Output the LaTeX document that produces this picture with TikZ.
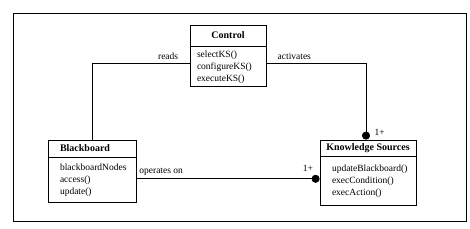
\documentclass[tikz,border=0pt]{standalone}
\usepackage{fontspec}
\setmainfont{Liberation Serif}
\usetikzlibrary{positioning,arrows.meta}

\tikzset{
  classtitle/.style={draw,line width=0.8pt,font=\bfseries,inner ysep=0pt},
  classbody/.style={draw,line width=0.8pt,align=left,inner ysep=0pt},
  assoc/.style={line width=0.8pt},
  onemany/.style={line width=0.8pt,-{Circle[length=8pt]}},
}

\begin{document}
\begin{tikzpicture}[x=1pt,y=-1pt,font=\fontsize{9.5}{12}\selectfont]
  \useasboundingbox (0,0) rectangle (470,229);
  % outer frame
  \draw[line width=0.8pt] (13,13) rectangle (466,221);

  % Control
  \node[classtitle,minimum width=76pt,minimum height=21pt] (ctltitle) at (228,35.5) {Control};
  \node[classbody,below=0pt of ctltitle,text width=62pt,inner xsep=7pt,minimum height=40pt] (ctlbody)
    {selectKS()\\configureKS()\\executeKS()};

  % Blackboard
  \node[classtitle,text width=64pt,inner xsep=12pt,align=left,minimum height=17pt] (bbtitle) at (92,148.5) {Blackboard};
  \node[classbody,below=0pt of bbtitle,text width=64pt,inner xsep=12pt,minimum height=45pt] (bbbody)
    {blackboardNodes\\access()\\update()};

  % Knowledge Sources
  \node[classtitle,minimum width=96pt,minimum height=16pt] (kstitle) at (368,148) {Knowledge Sources};
  \node[classbody,below=0pt of kstitle,text width=72pt,inner xsep=12pt,minimum height=49pt] (ksbody)
    {updateBlackboard()\\execCondition()\\execAction()};

  % associations
  \draw[assoc] ([yshift=3pt]ctlbody.west) -| node[pos=0.11,above] {reads} (bbtitle.north);
  \draw[onemany] ([yshift=3pt]ctlbody.east) -| node[pos=0.14,above] {activates}
    node[pos=1,above right,xshift=5pt] {1+} ([xshift=-2pt]kstitle.north);
  \coordinate (opsrc) at ([yshift=1.5pt]bbbody.east);
  \draw[onemany] (opsrc) -- node[pos=0.135,above] {operates on}
    node[pos=1,above left,xshift=-3pt,yshift=4pt] {1+} (opsrc -| ksbody.west);
\end{tikzpicture}
\end{document}
